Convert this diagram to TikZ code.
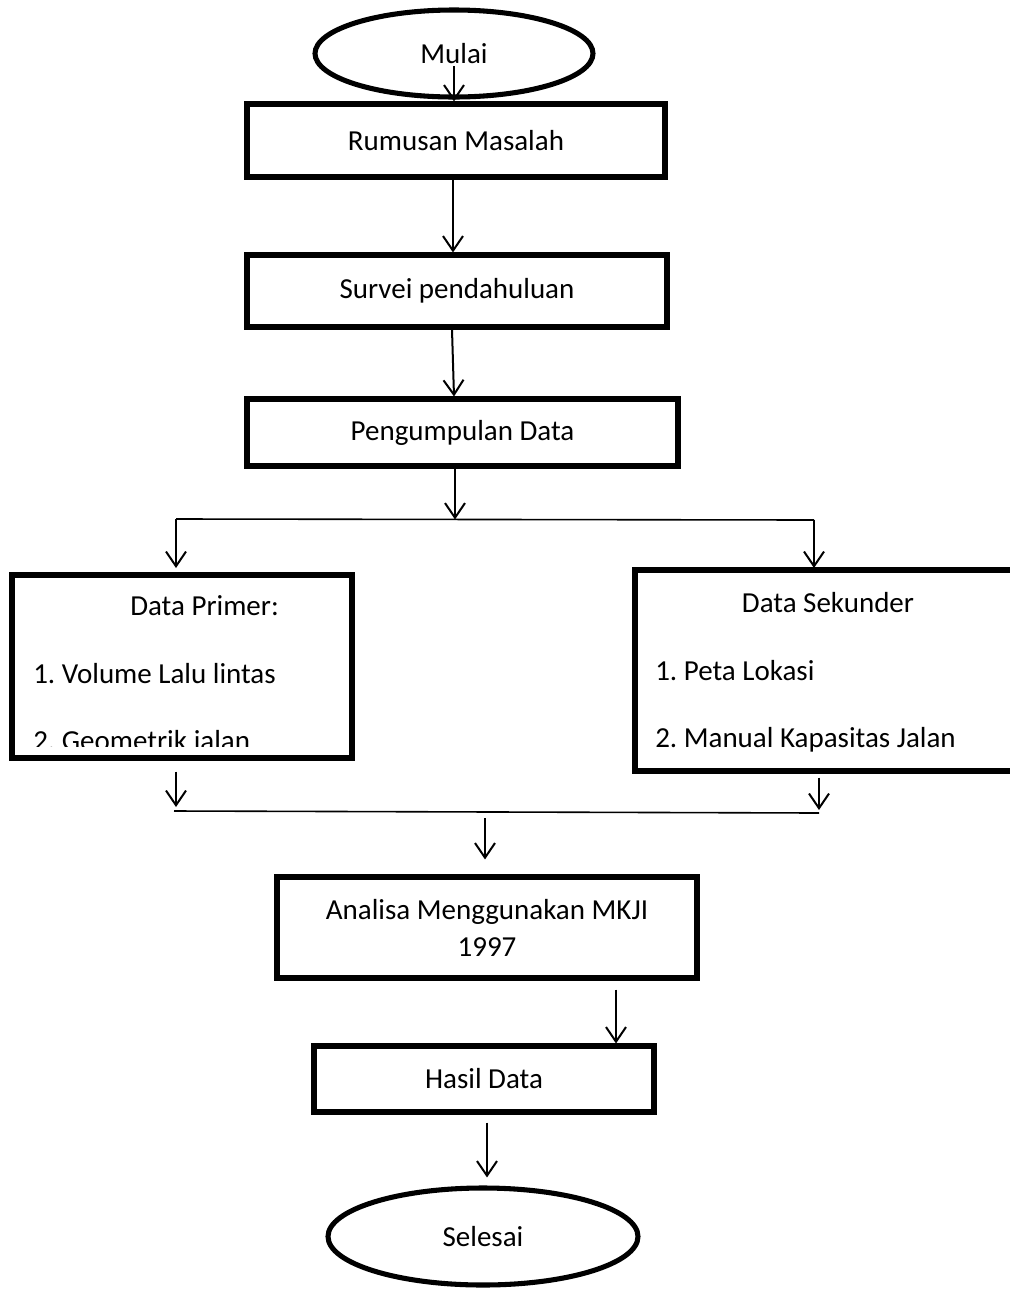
\documentclass[tikz,border=0pt]{standalone}
\usepackage{fontspec}
\setmainfont{Carlito}
\frenchspacing
\usetikzlibrary{shapes.geometric,arrows.meta,calc}
\newlength\pxl
\setlength\pxl{0.75pt}
\tikzset{
  txt/.style={font=\fontsize{21.75pt}{27.75pt}\selectfont, inner sep=0pt},
  box/.style={draw, rectangle, line width=3.8pt, inner sep=0pt, txt},
  oval/.style={draw, ellipse, line width=3.8pt, inner sep=0pt, txt},
  arr/.style={line width=1.5pt, -{Straight Barb[length=11pt,width=15pt]}},
  split/.style={line width=1.2pt}
}
\begin{document}
\begin{tikzpicture}[x=0.75pt,y=-0.75pt]
\useasboundingbox (0,0) rectangle (1010,1289);
\clip (0,0) rectangle (1010,1289);
% terminals
\node[oval, minimum width=278\pxl, minimum height=87\pxl] (mulai) at (454,53.5) {Mulai};
\node[oval, minimum width=310\pxl, minimum height=97\pxl] (selesai) at (483,1236.5) {Selesai};
% process boxes
\node[box, minimum width=418\pxl, minimum height=73\pxl] (rumusan) at (456,140.5) {Rumusan Masalah};
\node[box, minimum width=420\pxl, minimum height=72\pxl] (survei) at (457,291) {Survei pendahuluan};
\node[box, minimum width=431\pxl, minimum height=67\pxl] (kumpul) at (462.5,432.5) {Pengumpulan Data};
\node[box, minimum width=420\pxl, minimum height=101\pxl, align=center] (analisa) at (487,927.5) {Analisa Menggunakan MKJI\\1997};
\node[box, minimum width=340\pxl, minimum height=66\pxl] (hasil) at (484,1079) {Hasil Data};
% data boxes
\node[box, minimum width=340\pxl, minimum height=183\pxl] (primer) at (182,666.5) {};
\node[box, minimum width=385\pxl, minimum height=201\pxl] (sekunder) at (827.5,670.5) {};
\node[txt, anchor=base west] (p0) at (130,615) {Data Primer:};
\node[txt, anchor=base west] (p1) at (33,683) {1. Volume Lalu lintas};
\begin{scope}
\clip (14,577) rectangle (350,746);
\node[txt, anchor=base west] (p2) at (33,750) {2. Geometrik jalan};
\end{scope}
\node[txt, anchor=base] (s0) at (828,612) {Data Sekunder};
\node[txt, anchor=base west] (s1) at (655,680) {1. Peta Lokasi};
\node[txt, anchor=base west] (s2) at (655,747) {2. Manual Kapasitas Jalan};
% split / join coordinates
\coordinate (aL) at (176,519);
\coordinate (aR) at (814,520);
\coordinate (aM) at (455,519.5);
\coordinate (bL) at (174,811);
\coordinate (bR) at (819,813);
\coordinate (bM) at (485,812);
\coordinate (m0) at (454,66);
% connectors
\draw[arr] (m0) -- (m0 |- rumusan.north);
\draw[arr] (rumusan.south -| 453,0) -- (survei.north -| 453,0);
\draw[arr] (survei.south -| 452,0) -- (kumpul.north -| 454,0);
\draw[arr] (kumpul.south -| aM) -- (aM);
\draw[split] (aL) -- (aR);
\draw[arr] (aL) -- ++(0,49);
\draw[arr] (aR) -- ++(0,48);
\draw[arr] ($(primer.south -| 176,0)+(0,11)$) -- ($(bL -| 176,0)+(0,-4)$);
\draw[arr] ($(sekunder.south -| 819,0)+(0,4)$) -- ($(bR)+(0,-3)$);
\draw[split] (bL) -- (bR);
\draw[arr] ($(bM)+(0,6)$) -- ($(analisa.north -| bM)+(0,-15)$);
\draw[arr] ($(analisa.south -| 616,0)+(0,9)$) -- (hasil.north -| 616,0);
\draw[arr] ($(hasil.south -| 487,0)+(0,8)$) -- ($(selesai.north -| 487,0)+(0,-8)$);
\end{tikzpicture}
\end{document}
